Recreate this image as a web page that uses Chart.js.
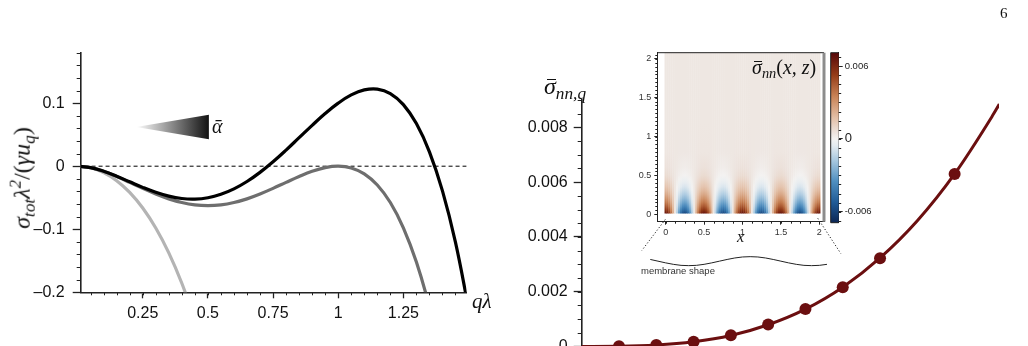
<!DOCTYPE html>
<html>
<head>
<meta charset="utf-8">
<script src="https://cdn.jsdelivr.net/npm/chart.js@4.4.1/dist/chart.umd.min.js"></script>
<style>
  html, body { margin: 0; padding: 0; background: #fff; width: 1028px; height: 346px; overflow: hidden; }
  canvas { position: absolute; }
  .t { position: absolute; white-space: nowrap; color: #111; font-family: 'Liberation Serif', serif; font-style: italic; line-height: 1; }
  .t sub { font-size: 0.72em; vertical-align: -0.3em; }
  .t sup { font-size: 0.7em; vertical-align: 0.55em; }
  .t .u { font-style: normal; }
  .ob { position: relative; display: inline-block; }
  .ob::before { content: ''; position: absolute; left: 22%; right: 2%; top: 0.2em; border-top: 1px solid #111; }
</style>
</head>
<body>
<canvas id="left" width="500" height="346" style="left:0;top:0"></canvas>
<canvas id="right" width="528" height="400" style="left:500px;top:0"></canvas>
<canvas id="inset" width="230" height="240" style="left:620px;top:40px"></canvas>
<canvas id="cbar" width="90" height="200" style="left:822px;top:40px"></canvas>

<div class="t" style="left:1000px;top:6px;font-style:normal;font-size:15px">6</div>
<div class="t" style="left:23px;top:178px;font-size:24px;transform:translate(-50%,-50%) rotate(-90deg)">σ<sub>tot</sub>λ<sup>2</sup><span class="u">/(</span>γu<sub>q</sub><span class="u">)</span></div>
<div class="t" style="left:212px;top:116px;font-size:20px">ᾱ</div>
<div class="t" style="left:472px;top:291px;font-size:21px">qλ</div>
<div class="t" style="left:544px;top:74px;font-size:24px"><span class="ob">σ</span><sub>nn,q</sub></div>
<div class="t" style="left:752px;top:57px;font-size:20px"><span class="ob">σ</span><sub>nn</sub><span class="u">(</span>x, z<span class="u">)</span></div>
<div class="t" style="left:737px;top:229px;font-size:16px">x</div>
<div class="t" style="left:641px;top:266px;font-size:9.5px;font-style:normal;font-family:'Liberation Sans',sans-serif;color:#333">membrane shape</div>

<script>
// ---- left panel: total tension vs q lambda ----
const qGrid = [0, 0.05, 0.1, 0.15, 0.2, 0.25, 0.3, 0.35, 0.4, 0.45, 0.5, 0.55, 0.6, 0.65, 0.7, 0.75,
  0.8, 0.85, 0.9, 0.95, 1, 1.05, 1.1, 1.15, 1.2, 1.25, 1.3, 1.35, 1.4, 1.45, 1.5];
const sigmaBlack = [0, -0.0022, -0.0080, -0.0159, -0.0248, -0.0336, -0.0414, -0.0475, -0.0512, -0.0521,
  -0.0500, -0.0446, -0.0360, -0.0243, -0.0098, 0.0070, 0.0256, 0.0452, 0.0648, 0.0835, 0.1000, 0.1130,
  0.1210, 0.1223, 0.1152, 0.0977, 0.0676, 0.0228, -0.0392, -0.1209, -0.2250];
const sigmaDark = [0, -0.0023, -0.0081, -0.0163, -0.0256, -0.0352, -0.0441, -0.0518, -0.0576, -0.0613,
  -0.0625, -0.0613, -0.0576, -0.0518, -0.0441, -0.0352, -0.0256, -0.0163, -0.0081, -0.0023, 0,
  -0.0028, -0.0121, -0.0298, -0.0576, -0.0977, -0.1521, -0.2233, -0.3136];
const sigmaLight = [0, -0.0025, -0.0101, -0.0230, -0.0416, -0.0664, -0.0981, -0.1375, -0.1856, -0.2435];
const zeroLineX = [0, 1.5];
const zeroLineY = [0, 0];
const wedgeX = [0.225, 0.504];
const wedgeTopY = [0.062, 0.0814];
const wedgeBottomY = [0.062, 0.0429];
const leftXTicks = [0.25, 0.5, 0.75, 1, 1.25];
const leftYTicks = [-0.2, -0.1, 0, 0.1];

// ---- right panel: sigma_nn,q ----
const kFit = [0, 1, 2, 3, 4, 5, 6, 7, 8, 9, 10, 11, 11.2];
const sigmaFit = [0, 0.000006, 0.00005, 0.00017, 0.0004, 0.00079, 0.00136, 0.00216, 0.00323, 0.00459,
  0.0063, 0.00839, 0.00885];
const kPts = [1, 2, 3, 4, 5, 6, 7, 8, 10];
const sigmaPts = [0.00001, 0.00005, 0.00017, 0.00041, 0.0008, 0.00137, 0.00216, 0.00322, 0.0063];
const rightYTicks = [0, 0.002, 0.004, 0.006, 0.008];

// ---- inset: sigma_nn(x, z) ----
const heatX = [0, 0.025, 0.05, 0.075, 0.1, 0.125, 0.15, 0.175, 0.2, 0.225, 0.25, 0.275, 0.3, 0.325, 0.35, 0.375,
  0.4, 0.425, 0.45, 0.475, 0.5, 0.525, 0.55, 0.575, 0.6, 0.625, 0.65, 0.675, 0.7, 0.725, 0.75, 0.775,
  0.8, 0.825, 0.85, 0.875, 0.9, 0.925, 0.95, 0.975, 1, 1.025, 1.05, 1.075, 1.1, 1.125, 1.15, 1.175,
  1.2, 1.225, 1.25, 1.275, 1.3, 1.325, 1.35, 1.375, 1.4, 1.425, 1.45, 1.475, 1.5, 1.525, 1.55, 1.575,
  1.6, 1.625, 1.65, 1.675, 1.7, 1.725, 1.75, 1.775, 1.8, 1.825, 1.85, 1.875, 1.9, 1.925, 1.95, 1.975, 2];
const heatXAmp = [1, 0.95, 0.81, 0.59, 0.31, 0, -0.31, -0.59, -0.81, -0.95, -1, -0.95, -0.81, -0.59, -0.31, 0, 0.31, 0.59, 0.81, 0.95,
  1, 0.95, 0.81, 0.59, 0.31, 0, -0.31, -0.59, -0.81, -0.95, -1, -0.95, -0.81, -0.59, -0.31, 0, 0.31, 0.59, 0.81, 0.95,
  1, 0.95, 0.81, 0.59, 0.31, 0, -0.31, -0.59, -0.81, -0.95, -1, -0.95, -0.81, -0.59, -0.31, 0, 0.31, 0.59, 0.81, 0.95,
  1, 0.95, 0.81, 0.59, 0.31, 0, -0.31, -0.59, -0.81, -0.95, -1, -0.95, -0.81, -0.59, -0.31, 0, 0.31, 0.59, 0.81, 0.95, 1];
const heatZ = [0, 0.05, 0.1, 0.15, 0.2, 0.25, 0.3, 0.35, 0.4, 0.45, 0.5, 0.6, 0.8, 1.2, 2.1];
const heatZAmp = [0.0064, 0.0052, 0.0042, 0.0034, 0.0027, 0.0021, 0.0016, 0.0012, 0.0009, 0.0006, 0.0004,
  0.0002, 0.00003, 0, 0];
const heatBase = 0.0004;
const insetTicks = [0, 0.5, 1, 1.5, 2];
const membraneX = [-0.34, -0.2, -0.1, 0, 0.1, 0.2, 0.3, 0.4, 0.5, 0.6, 0.7, 0.8, 0.9, 1, 1.1, 1.2, 1.3,
  1.4, 1.5, 1.6, 1.7, 1.8, 1.9, 2, 2.1, 2.2, 2.3];
const membraneY = [-0.561, -0.586, -0.608, -0.63, -0.649, -0.662, -0.666, -0.662, -0.649, -0.63, -0.608,
  -0.586, -0.567, -0.554, -0.55, -0.554, -0.567, -0.586, -0.608, -0.63, -0.649, -0.662, -0.666, -0.662,
  -0.649, -0.63, -0.608];
const dotLeftX = [-0.005, -0.31], dotLeftY = [-0.07, -0.47];
const dotRightX = [1.98, 2.28], dotRightY = [-0.055, -0.51];

// ---- colour bar ----
const cbLimit = 0.007;
const cbRange = [-0.0069, 0.0071];
const cbTicks = [-0.006, 0, 0.006];
const cmapT = [-1, -0.75, -0.5, -0.25, -0.08, 0, 0.08, 0.25, 0.5, 0.75, 1];
const cmapC = ['#0b2350', '#1f5a96', '#4f8fc0', '#a9c9e0', '#e4ebf0', '#f3f2f1', '#ece2dc', '#e3bfa6',
  '#c98356', '#963d18', '#5a0a0a'];

const pts = (xs, ys) => ys.map((y, i) => ({ x: xs[i], y }));
const sans = 'Liberation Sans, Arial, sans-serif';

function hexRgb(h) { return [1, 3, 5].map(k => parseInt(h.slice(k, k + 2), 16)); }
function cmap(v) {
  const t = Math.max(-1, Math.min(1, v / cbLimit));
  let k = 0;
  while (k < cmapT.length - 2 && t > cmapT[k + 1]) k++;
  const f = (t - cmapT[k]) / (cmapT[k + 1] - cmapT[k]);
  const a = hexRgb(cmapC[k]), b = hexRgb(cmapC[k + 1]);
  return 'rgb(' + a.map((c, i) => Math.round(c + (b[i] - c) * f)).join(',') + ')';
}

// short outward ticks between the labelled ones
const minorTicks = {
  id: 'minorTicks',
  afterDraw(chart, args, o) {
    if (!o || !o.marks) return;
    const { ctx, chartArea: a } = chart;
    ctx.save();
    ctx.strokeStyle = o.color || '#222';
    ctx.lineWidth = o.width || 1;
    ctx.beginPath();
    o.marks.forEach(m => {
      const s = chart.scales[m.axis];
      const n = Math.round((m.to - m.from) / m.step);
      for (let i = 0; i <= n; i++) {
        const p = Math.round(s.getPixelForValue(m.from + i * m.step)) + 0.5;
        if (s.position === 'bottom') { ctx.moveTo(p, a.bottom); ctx.lineTo(p, a.bottom + m.len); }
        else if (s.position === 'left') { ctx.moveTo(a.left, p); ctx.lineTo(a.left - m.len, p); }
        else { ctx.moveTo(a.right, p); ctx.lineTo(a.right + m.len, p); }
      }
    });
    ctx.stroke();
    ctx.restore();
  }
};

const frame = {
  id: 'frame',
  afterDatasetsDraw(chart, args, o) {
    if (!o || !o.sides) return;
    const { ctx, chartArea: a } = chart;
    ctx.save();
    o.sides.forEach(([side, color, w]) => {
      ctx.strokeStyle = color; ctx.lineWidth = w;
      ctx.beginPath();
      if (side === 'top') { ctx.moveTo(a.left, a.top); ctx.lineTo(a.right, a.top); }
      if (side === 'bottom') { ctx.moveTo(a.left, a.bottom); ctx.lineTo(a.right, a.bottom); }
      if (side === 'left') { ctx.moveTo(a.left, a.top); ctx.lineTo(a.left, a.bottom); }
      if (side === 'right') { ctx.moveTo(a.right, a.top); ctx.lineTo(a.right, a.bottom); }
      ctx.stroke();
    });
    ctx.restore();
  }
};

const noChrome = { legend: { display: false }, tooltip: { enabled: false } };
const tickAxis = (len, w) => ({ display: true, drawOnChartArea: false, drawTicks: true, tickLength: len, tickWidth: w, tickColor: '#222' });

// ---------- left chart ----------
const curve = (ys, color) => ({
  data: pts(qGrid, ys), borderColor: color, borderWidth: 3.2, pointRadius: 0, tension: 0.4, fill: false
});
new Chart(document.getElementById('left'), {
  type: 'line',
  data: {
    datasets: [
      curve(sigmaBlack, '#000'),
      curve(sigmaDark, '#6e6e6e'),
      curve(sigmaLight, '#b4b4b4'),
      {
        data: pts(wedgeX, wedgeTopY), borderWidth: 0, borderColor: 'rgba(0,0,0,0)', pointRadius: 0, fill: '+1',
        backgroundColor: c => {
          const s = c.chart.scales.x;
          if (!s || !c.chart.chartArea) return '#777';
          const g = c.chart.ctx.createLinearGradient(s.getPixelForValue(wedgeX[0]), 0, s.getPixelForValue(wedgeX[1]), 0);
          g.addColorStop(0, '#ffffff');
          g.addColorStop(1, '#111111');
          return g;
        }
      },
      { data: pts(wedgeX, wedgeBottomY), borderWidth: 0, borderColor: 'rgba(0,0,0,0)', pointRadius: 0, fill: false },
      { data: pts(zeroLineX, zeroLineY), borderColor: '#000', borderWidth: 1, borderDash: [4, 3], pointRadius: 0, fill: false }
    ]
  },
  options: {
    responsive: false, animation: false, events: [],
    layout: { padding: { top: 52.7, right: 33.3, left: 0, bottom: 0 } },
    plugins: {
      ...noChrome,
      minorTicks: { marks: [
        { axis: 'x', from: 0.05, to: 1.45, step: 0.05, len: 3 },
        { axis: 'y', from: -0.18, to: 0.18, step: 0.02, len: 4 }
      ] }
    },
    scales: {
      x: {
        type: 'linear', min: 0.012, max: 1.493,
        afterBuildTicks: s => { s.ticks = leftXTicks.map(v => ({ value: v })); },
        afterFit: s => { s.height = 53.7; },
        grid: tickAxis(6, 1.3),
        border: { display: true, color: '#222', width: 1.6 },
        ticks: { color: '#111', font: { family: sans, size: 16 }, padding: 6, maxRotation: 0, autoSkip: false, callback: v => String(v) }
      },
      y: {
        min: -0.2, max: 0.18,
        afterBuildTicks: s => { s.ticks = leftYTicks.map(v => ({ value: v })); },
        afterFit: s => { s.width = 80.7; },
        grid: tickAxis(8, 1.3),
        border: { display: true, color: '#222', width: 1.6 },
        ticks: { color: '#111', font: { family: sans, size: 16 }, padding: 8, autoSkip: false,
          callback: v => (v === 0 ? '0' : v < 0 ? '\u2013' + String(Math.abs(v)) : String(v)) }
      }
    }
  },
  plugins: [minorTicks]
});

// ---------- right chart ----------
const maroon = '#6b0f10';
new Chart(document.getElementById('right'), {
  type: 'line',
  data: {
    datasets: [
      { data: pts(kPts, sigmaPts), showLine: false, pointRadius: 6, pointBackgroundColor: maroon, pointBorderWidth: 0, clip: false },
      { data: pts(kFit, sigmaFit), borderColor: maroon, borderWidth: 3, pointRadius: 0, cubicInterpolationMode: 'monotone', fill: false }
    ]
  },
  options: {
    responsive: false, animation: false, events: [],
    layout: { padding: { top: 100, right: 29, left: 0, bottom: 0 } },
    plugins: {
      ...noChrome,
      minorTicks: { marks: [{ axis: 'y', from: 0.0005, to: 0.009, step: 0.0005, len: 4 }] }
    },
    scales: {
      x: {
        type: 'linear', min: 0, max: 11.19,
        afterFit: s => { s.height = 53.6; },
        grid: { display: false },
        border: { display: true, color: '#222', width: 1.6 },
        ticks: { display: false }
      },
      y: {
        min: 0, max: 0.009,
        afterBuildTicks: s => { s.ticks = rightYTicks.map(v => ({ value: v })); },
        afterFit: s => { s.width = 81.7; },
        grid: tickAxis(8, 1.3),
        border: { display: true, color: '#222', width: 1.6 },
        ticks: { color: '#111', font: { family: sans, size: 16 }, padding: 6, autoSkip: false,
          callback: v => (v === 0 ? '0' : v.toFixed(3)) }
      }
    }
  },
  plugins: [minorTicks]
});

// ---------- inset heat map ----------
const heatColumn = c => {
  const i = c.dataIndex, chart = c.chart, y = chart.scales.y;
  if (i === undefined || !chart.chartArea) return '#eee';
  const zLast = heatZ[heatZ.length - 1];
  const g = chart.ctx.createLinearGradient(0, y.getPixelForValue(heatZ[0]), 0, y.getPixelForValue(zLast));
  heatZ.forEach((z, j) => g.addColorStop((z - heatZ[0]) / (zLast - heatZ[0]), cmap(heatZAmp[j] * heatXAmp[i] + heatBase)));
  return g;
};
const thinLine = (xs, ys, dash) => ({
  type: 'line', data: pts(xs, ys), borderColor: '#222', borderWidth: 1, borderDash: dash, pointRadius: 0,
  cubicInterpolationMode: 'monotone', fill: false, clip: false
});
new Chart(document.getElementById('inset'), {
  type: 'bar',
  data: {
    datasets: [
      thinLine(membraneX, membraneY, []),
      thinLine(dotLeftX, dotLeftY, [1.2, 2]),
      thinLine(dotRightX, dotRightY, [1.2, 2]),
      {
        type: 'bar', data: heatX.map(x => ({ x, y: [heatZ[0], heatZ[heatZ.length - 1]] })),
        backgroundColor: heatColumn, borderWidth: 0, barPercentage: 1.2, categoryPercentage: 1, grouped: false
      }
    ]
  },
  options: {
    responsive: false, animation: false, events: [],
    layout: { padding: { top: 12.7, right: 26, left: 0, bottom: 0 } },
    plugins: {
      ...noChrome,
      minorTicks: { marks: [
        { axis: 'x', from: 0, to: 2, step: 0.125, len: 2 },
        { axis: 'y', from: 0, to: 2.05, step: 0.05, len: 2 }
      ] },
      frame: { sides: [['top', '#222', 1], ['right', '#8c8c8c', 3]] }
    },
    scales: {
      x: {
        type: 'linear', min: -0.109, max: 2.061, offset: false,
        afterBuildTicks: s => { s.ticks = insetTicks.map(v => ({ value: v })); },
        afterFit: s => { s.height = 58.3; },
        grid: { ...tickAxis(3, 1), offset: false },
        border: { display: true, color: '#222', width: 1 },
        ticks: { color: '#333', font: { family: sans, size: 9 }, padding: 2, maxRotation: 0, autoSkip: false, callback: v => String(v) }
      },
      y: {
        type: 'linear', min: -0.099, max: 2.081,
        afterBuildTicks: s => { s.ticks = insetTicks.map(v => ({ value: v })); },
        afterFit: s => { s.width = 37.3; },
        grid: tickAxis(3, 1),
        border: { display: true, color: '#222', width: 1 },
        ticks: { color: '#333', font: { family: sans, size: 9 }, padding: 3, autoSkip: false, callback: v => String(v) }
      }
    }
  },
  plugins: [minorTicks, frame]
});

// ---------- colour bar ----------
new Chart(document.getElementById('cbar'), {
  type: 'bar',
  data: {
    labels: [''],
    datasets: [{
      data: [cbRange], borderWidth: 0, barPercentage: 1, categoryPercentage: 1,
      backgroundColor: c => {
        const y = c.chart.scales.y;
        if (!c.chart.chartArea) return '#ccc';
        const g = c.chart.ctx.createLinearGradient(0, y.getPixelForValue(-cbLimit), 0, y.getPixelForValue(cbLimit));
        cmapT.forEach((t, k) => g.addColorStop((t + 1) / 2, cmapC[k]));
        return g;
      }
    }]
  },
  options: {
    responsive: false, animation: false, events: [],
    layout: { padding: { top: 12.7, left: 8.7, right: 0, bottom: 17.3 } },
    plugins: {
      ...noChrome,
      minorTicks: { marks: [{ axis: 'y', from: -0.00675, to: 0.00675, step: 0.00075, len: 2.5 }] },
      frame: { sides: [['top', '#222', 1], ['bottom', '#222', 1], ['left', '#222', 1]] }
    },
    scales: {
      x: { display: false },
      y: {
        position: 'right', min: cbRange[0], max: cbRange[1],
        afterBuildTicks: s => { s.ticks = cbTicks.map(v => ({ value: v })); },
        afterFit: s => { s.width = 73.3; },
        grid: tickAxis(4, 1),
        border: { display: true, color: '#222', width: 1 },
        ticks: { color: '#222', padding: 2, autoSkip: false,
          font: c => ({ family: sans, size: c.tick && c.tick.value === 0 ? 13 : 9.5 }),
          callback: v => (v === 0 ? '0' : v.toFixed(3)) }
      }
    }
  },
  plugins: [minorTicks, frame]
});
</script>
</body>
</html>
